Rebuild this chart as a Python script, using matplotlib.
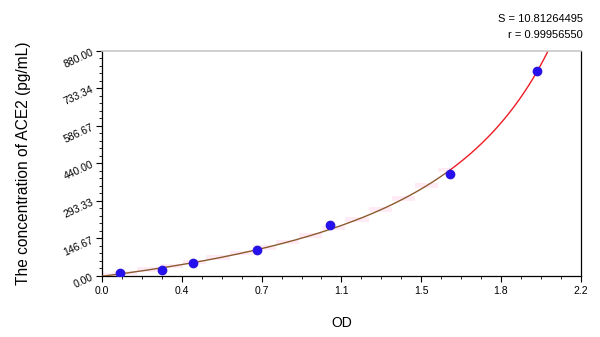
import numpy as np
import matplotlib.pyplot as plt
from matplotlib.ticker import MultipleLocator, FixedLocator

plt.rcParams['font.family'] = ['Liberation Sans', 'DejaVu Sans']

# standards
od = [0.083, 0.275, 0.418, 0.710, 1.049, 1.598, 1.998]
conc = [12.5, 25, 50, 100, 200, 400, 800]

x_ticks = [0.0, 0.3667, 0.7333, 1.1, 1.4667, 1.8333, 2.2]
x_labels = ['0.0', '0.4', '0.7', '1.1', '1.5', '1.8', '2.2']
y_ticks = [0, 146.67, 293.33, 440, 586.67, 733.34, 880]
y_labels = ['0.00', '146.67', '293.33', '440.00', '586.67', '733.34', '880.00']

# standard curve: conc = C*(OD-A)/(D-OD), solved linearly from the standards
o = np.array(od)
c = np.array(conc)
M = np.column_stack([c, -o, np.ones_like(o)])
D, C, CA = np.linalg.lstsq(M, c * o, rcond=None)[0]
A = CA / C


def curve(x):
    return C * (x - A) / (D - x)


xs = np.linspace(0, min(2.2, D - 0.01), 800)
ys = np.clip(curve(xs), 0, None)

fig = plt.figure(figsize=(6, 3.37), dpi=100)
ax = fig.add_axes([0.17, 0.181, 0.798, 0.668])

# faint pink band around the lower part of the curve
xb = np.linspace(0, od[5], 16)
yb = np.clip(curve(xb), 0, None)
ax.fill_between(xb, yb - 8, yb + 10, step='mid', color='#ffebf5', lw=0, zorder=1)

low = xs <= od[5]
ax.plot(xs[~low], ys[~low], color='#ee1c25', lw=1.0, zorder=2)
ax.plot(xs[low], ys[low], color='#8c5a2e', lw=1.0, zorder=3)
ax.plot(od, conc, 'o', color='#2410f0', ms=6, mec='#2a14e0', zorder=4)

ax.set_xlim(0, 2.2)
ax.set_ylim(0, 880)
ax.xaxis.set_major_locator(FixedLocator(x_ticks))
ax.set_xticklabels(x_labels)
ax.yaxis.set_major_locator(FixedLocator(y_ticks))
ax.set_yticklabels(y_labels, rotation=25, ha='right', rotation_mode='anchor')
ax.xaxis.set_minor_locator(MultipleLocator(2.2 / 24))
ax.yaxis.set_minor_locator(MultipleLocator(880 / 30))
ax.tick_params(which='major', length=4, width=0.8, labelsize=7.5, colors='black')
ax.tick_params(which='minor', length=2.5, width=0.6)
ax.tick_params(axis='y', pad=3)

ax.spines['top'].set_color('#c8c8c8')
ax.spines['top'].set_linewidth(1.2)
for s in ['left', 'bottom', 'right']:
    ax.spines[s].set_linewidth(0.9)

ax.set_xlabel('OD', fontsize=10, labelpad=14)
ax.set_ylabel('The concentration of ACE2 (pg/mL)', fontsize=11.2, labelpad=22)

fig.text(0.972, 0.935, 'S = 10.81264495', ha='right', fontsize=8)
fig.text(0.972, 0.888, 'r = 0.99956550', ha='right', fontsize=8)

fig.savefig('out.png', dpi=100)
